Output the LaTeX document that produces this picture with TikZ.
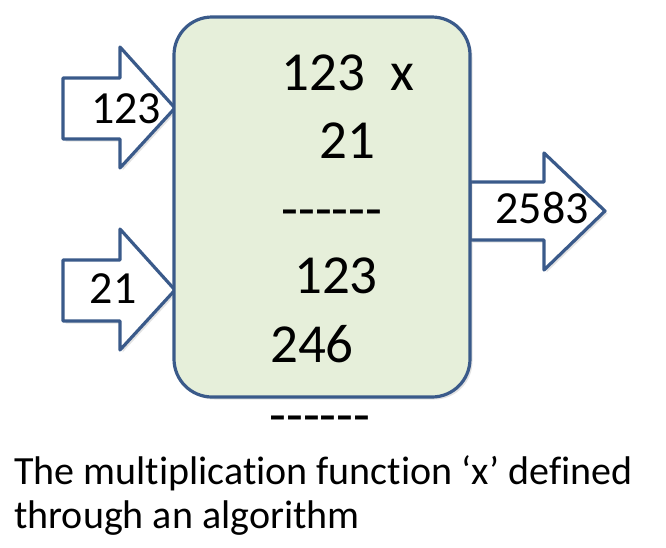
\documentclass[tikz,border=0pt]{standalone}
\usepackage{fontspec}
\setmainfont{Carlito}[Ligatures={TeXOff,NoCommon}]
\usetikzlibrary{shadows}
\definecolor{edgeblue}{HTML}{3A5A8A}
\definecolor{boxfill}{HTML}{E6EFDA}
\tikzset{
  shp/.style={draw=edgeblue, line width=3.2pt, line join=round, drop shadow={opacity=0.22, shadow xshift=2.5pt, shadow yshift=-2.5pt}},
  boxtxt/.style={inner sep=0pt, anchor=base, font=\fontsize{55}{66}\selectfont},
  arrtxt/.style={inner sep=0pt, anchor=base, font=\fontsize{46}{55}\selectfont},
  captxt/.style={inner sep=0pt, anchor=base west, font=\fontsize{40}{48}\selectfont},
}
\begin{document}
\begin{tikzpicture}[x=1pt,y=-1pt]
\useasboundingbox (0,0) rectangle (666,547);
% input arrows
\draw[shp, fill=white] (63,78) -- (120,78) -- (120,47) -- (175,108) -- (120,168) -- (120,139) -- (63,139) -- cycle;
\draw[shp, fill=white] (63,260) -- (120,260) -- (120,229) -- (175,290) -- (120,350) -- (120,321) -- (63,321) -- cycle;
% output arrow
\draw[shp, fill=white] (470,182) -- (544,182) -- (544,153) -- (605,211) -- (544,270) -- (544,240) -- (470,240) -- cycle;
% box
\draw[shp, fill=boxfill, rounded corners=38pt] (174,17) rectangle (470,397);
% texts
\node[arrtxt] (inA) at (126,123) {123};
\node[arrtxt] (inB) at (113,303) {21};
\node[arrtxt] (out) at (542,223) {2583};
\node[boxtxt] (l1) at (348,90) {123\ \ x};
\node[boxtxt] (l2) at (347,158) {21};
\node[boxtxt] (l3) at (332,227) {------};
\node[boxtxt] (l4) at (336,293) {123};
\node[boxtxt] (l5) at (312,362) {246};
\node[boxtxt] (l6) at (320,433) {------};
\node[captxt] (c1) at (14,484) {The multiplication function ‘x’ defined};
\node[captxt] (c2) at (14,528) {through an algorithm};
\end{tikzpicture}
\end{document}
